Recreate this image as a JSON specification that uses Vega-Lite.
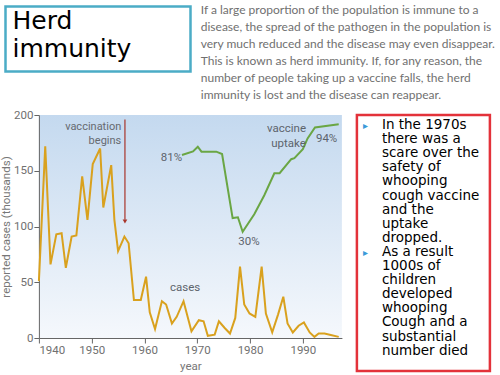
{
  "$schema": "https://vega.github.io/schema/vega-lite/v6.json",
  "background": "white",
  "padding": {"left": 0.5, "top": 3.5, "right": 0, "bottom": 0},
  "config": {"view": {"stroke": null}},
  "spacing": 7.5,
  "vconcat": [
    {
      "spacing": 6.75,
      "hconcat": [
        {
          "width": 185,
          "height": 65,
          "view": {"stroke": "#4bacc6", "strokeWidth": 2.5},
          "data": {"values": [{"line": 1, "text": "Herd"}, {"line": 2, "text": "immunity"}]},
          "mark": {"type": "text", "align": "left", "baseline": "alphabetic", "font": "DejaVu Sans", "fontSize": 25, "color": "#000000"},
          "encoding": {
            "x": {"value": 7},
            "y": {"field": "line", "type": "quantitative", "scale": {"domain": [0.179, 2.5], "reverse": true, "nice": false, "zero": false}, "axis": null},
            "text": {"field": "text"}
          }
        },
        {
          "width": 302,
          "height": 95,
          "data": {"values": [
            {"line": 1, "text": "If a large proportion of the population is immune to a"},
            {"line": 2, "text": "disease, the spread of the pathogen in the population is"},
            {"line": 3, "text": "very much reduced and the disease may even disappear."},
            {"line": 4, "text": "This is known as herd immunity. If, for any reason, the"},
            {"line": 5, "text": "number of people taking up a vaccine falls, the herd"},
            {"line": 6, "text": "immunity is lost and the disease can reappear."}
          ]},
          "mark": {"type": "text", "align": "left", "baseline": "alphabetic", "font": "Lato", "fontSize": 12, "color": "#707070"},
          "encoding": {
            "x": {"value": 1.5},
            "y": {"field": "line", "type": "quantitative", "scale": {"domain": [0.559, 6.147], "reverse": true, "nice": false, "zero": false}, "axis": null},
            "text": {"field": "text"}
          }
        }
      ]
    },
    {
      "spacing": -6.6,
      "hconcat": [
        {"width": 1, "height": 1, "data": {"values": []}, "mark": "point"},
        {
          "spacing": 12,
          "hconcat": [
            {
              "width": 303,
              "height": 223,
              "view": {"stroke": null, "fill": {"gradient": "linear", "x1": 0, "y1": 0, "x2": 0, "y2": 1, "stops": [{"offset": 0, "color": "#c4d9ef"}, {"offset": 1, "color": "#f5f8fc"}]}},
              "resolve": {"scale": {"y": "independent"}},
              "layer": [
                {
                  "data": {"values": [
                    {"year": 1940.0, "cases": 51}, {"year": 1941.2, "cases": 172}, {"year": 1942.2, "cases": 66},
                    {"year": 1943.3, "cases": 93}, {"year": 1944.3, "cases": 94}, {"year": 1945.1, "cases": 63},
                    {"year": 1946.2, "cases": 91}, {"year": 1947.1, "cases": 92}, {"year": 1948.2, "cases": 145},
                    {"year": 1949.2, "cases": 106}, {"year": 1950.2, "cases": 156}, {"year": 1951.6, "cases": 170},
                    {"year": 1952.2, "cases": 117}, {"year": 1953.7, "cases": 155}, {"year": 1954.3, "cases": 106},
                    {"year": 1955.0, "cases": 78}, {"year": 1956.2, "cases": 91}, {"year": 1957.0, "cases": 85},
                    {"year": 1958.0, "cases": 34}, {"year": 1959.3, "cases": 34}, {"year": 1960.3, "cases": 55},
                    {"year": 1961.0, "cases": 23}, {"year": 1962.0, "cases": 8}, {"year": 1963.3, "cases": 33},
                    {"year": 1964.1, "cases": 30}, {"year": 1965.2, "cases": 13}, {"year": 1966.1, "cases": 19},
                    {"year": 1967.4, "cases": 33}, {"year": 1968.9, "cases": 6}, {"year": 1970.3, "cases": 16},
                    {"year": 1971.2, "cases": 15}, {"year": 1972.0, "cases": 2}, {"year": 1973.3, "cases": 3},
                    {"year": 1974.1, "cases": 15}, {"year": 1975.2, "cases": 9}, {"year": 1976.2, "cases": 4},
                    {"year": 1977.2, "cases": 18}, {"year": 1978.1, "cases": 64}, {"year": 1978.9, "cases": 30},
                    {"year": 1979.9, "cases": 22}, {"year": 1981.0, "cases": 19}, {"year": 1982.2, "cases": 64},
                    {"year": 1983.0, "cases": 22}, {"year": 1984.2, "cases": 5}, {"year": 1985.3, "cases": 21},
                    {"year": 1986.3, "cases": 37}, {"year": 1987.1, "cases": 13}, {"year": 1988.1, "cases": 5},
                    {"year": 1989.2, "cases": 11}, {"year": 1990.2, "cases": 14}, {"year": 1991.3, "cases": 5},
                    {"year": 1992.2, "cases": 1}, {"year": 1993.0, "cases": 4}, {"year": 1994.1, "cases": 4},
                    {"year": 1995.1, "cases": 3}, {"year": 1996.8, "cases": 1}
                  ]},
                  "mark": {"type": "line", "color": "#d9a11e", "strokeWidth": 2},
                  "encoding": {
                    "x": {"field": "year", "type": "quantitative", "scale": {"domain": [1940, 1997.4], "nice": false, "zero": false},
                      "axis": {"values": [1940, 1950, 1960, 1970, 1980, 1990], "format": "d", "grid": false, "title": "year",
                        "labelFont": "Roboto", "labelFontSize": 11.5, "labelColor": "#707070", "labelPadding": 1,
                        "tickSize": 5, "tickColor": "#666666", "domainColor": "#666666",
                        "titleFont": "Roboto", "titleFontSize": 11.5, "titleFontWeight": "normal", "titleColor": "#777777", "titlePadding": 5}},
                    "y": {"field": "cases", "type": "quantitative", "scale": {"domain": [0, 200], "nice": false},
                      "axis": {"values": [0, 50, 100, 150, 200], "grid": false, "title": "reported cases (thousands)",
                        "labelFont": "Roboto", "labelFontSize": 11.5, "labelColor": "#707070", "labelPadding": 1,
                        "tickSize": 5, "tickColor": "#666666", "domainColor": "#666666",
                        "titleFont": "Roboto", "titleFontSize": 11.5, "titleFontWeight": "normal", "titleColor": "#777777", "titlePadding": 2}}
                  }
                },
                {
                  "data": {"values": [
                    {"year": 1967.1, "uptake": 81.1}, {"year": 1969.2, "uptake": 83.5}, {"year": 1970.1, "uptake": 86.6},
                    {"year": 1970.8, "uptake": 83.3}, {"year": 1973.6, "uptake": 83.3}, {"year": 1974.7, "uptake": 81.7},
                    {"year": 1976.7, "uptake": 39.3}, {"year": 1977.7, "uptake": 39.8}, {"year": 1978.6, "uptake": 30.2},
                    {"year": 1980.8, "uptake": 41.8}, {"year": 1982.7, "uptake": 54.4}, {"year": 1984.6, "uptake": 69.0},
                    {"year": 1985.6, "uptake": 69.0}, {"year": 1987.8, "uptake": 78.3}, {"year": 1988.4, "uptake": 79.0},
                    {"year": 1990.0, "uptake": 84.9}, {"year": 1990.9, "uptake": 92.1}, {"year": 1992.3, "uptake": 99.3},
                    {"year": 1996.8, "uptake": 101.5}
                  ]},
                  "mark": {"type": "line", "color": "#6aa644", "strokeWidth": 2},
                  "encoding": {
                    "x": {"field": "year", "type": "quantitative"},
                    "y": {"field": "uptake", "type": "quantitative", "scale": {"domain": [-40.2, 107.6], "nice": false, "zero": false}, "axis": null}
                  }
                },
                {
                  "data": {"values": [{"year": 1956.3, "top": 196, "tip": 106}]},
                  "mark": {"type": "rule", "color": "#a8352b", "strokeWidth": 1.2},
                  "encoding": {
                    "x": {"field": "year", "type": "quantitative"},
                    "y": {"field": "top", "type": "quantitative", "scale": {"domain": [0, 200], "nice": false}, "axis": null},
                    "y2": {"field": "tip"}
                  }
                },
                {
                  "data": {"values": [{"year": 1956.3, "tip": 104.5}]},
                  "mark": {"type": "point", "shape": "triangle-down", "filled": true, "size": 22, "color": "#a8352b", "opacity": 1},
                  "encoding": {
                    "x": {"field": "year", "type": "quantitative"},
                    "y": {"field": "tip", "type": "quantitative", "scale": {"domain": [0, 200], "nice": false}, "axis": null}
                  }
                },
                {
                  "data": {"values": [
                    {"year": 1955.6, "val": 186.6, "label": "vaccination"},
                    {"year": 1955.6, "val": 174, "label": "begins"}
                  ]},
                  "mark": {"type": "text", "align": "right", "baseline": "alphabetic", "font": "Roboto", "fontSize": 11, "color": "#666a70"},
                  "encoding": {
                    "x": {"field": "year", "type": "quantitative"},
                    "y": {"field": "val", "type": "quantitative", "scale": {"domain": [0, 200], "nice": false}, "axis": null},
                    "text": {"field": "label"}
                  }
                },
                {
                  "data": {"values": [
                    {"year": 1967.7, "val": 42.4, "label": "cases"},
                    {"year": 1986.9, "val": 185, "label": "vaccine"},
                    {"year": 1987.3, "val": 171.6, "label": "uptake"},
                    {"year": 1994.5, "val": 176, "label": "94%"},
                    {"year": 1965.1, "val": 158.8, "label": "81%"},
                    {"year": 1979.8, "val": 83.6, "label": "30%"}
                  ]},
                  "mark": {"type": "text", "align": "center", "baseline": "alphabetic", "font": "Roboto", "fontSize": 11.5, "color": "#5d646c"},
                  "encoding": {
                    "x": {"field": "year", "type": "quantitative"},
                    "y": {"field": "val", "type": "quantitative", "scale": {"domain": [0, 200], "nice": false}, "axis": null},
                    "text": {"field": "label"}
                  }
                }
              ]
            },
            {
              "width": 133,
              "height": 256,
              "view": {"stroke": "#e3323a", "strokeWidth": 2.5},
              "layer": [
                {
                  "data": {"values": [
                    {"line": 1, "text": "In the 1970s"},
                    {"line": 2, "text": "there was a"},
                    {"line": 3, "text": "scare over the"},
                    {"line": 4, "text": "safety of"},
                    {"line": 5, "text": "whooping"},
                    {"line": 6, "text": "cough vaccine"},
                    {"line": 7, "text": "and the"},
                    {"line": 8, "text": "uptake"},
                    {"line": 9, "text": "dropped."},
                    {"line": 10, "text": "As a result"},
                    {"line": 11, "text": "1000s of"},
                    {"line": 12, "text": "children"},
                    {"line": 13, "text": "developed"},
                    {"line": 14, "text": "whooping"},
                    {"line": 15, "text": "Cough and a"},
                    {"line": 16, "text": "substantial"},
                    {"line": 17, "text": "number died"}
                  ]},
                  "mark": {"type": "text", "align": "left", "baseline": "alphabetic", "font": "DejaVu Sans", "fontSize": 13.5, "color": "#000000"},
                  "encoding": {
                    "x": {"value": 25},
                    "y": {"field": "line", "type": "quantitative", "scale": {"domain": [0, 18.16], "reverse": true, "nice": false, "zero": false}, "axis": null},
                    "text": {"field": "text"}
                  }
                },
                {
                  "data": {"values": [{"line": 1, "mark": "▸"}, {"line": 10, "mark": "▸"}]},
                  "mark": {"type": "text", "align": "left", "baseline": "alphabetic", "font": "DejaVu Sans", "fontSize": 10, "color": "#3a9ad9"},
                  "encoding": {
                    "x": {"value": 6},
                    "y": {"field": "line", "type": "quantitative", "scale": {"domain": [0, 18.16], "reverse": true, "nice": false, "zero": false}, "axis": null},
                    "text": {"field": "mark"}
                  }
                }
              ]
            }
          ]
        }
      ]
    }
  ]
}
